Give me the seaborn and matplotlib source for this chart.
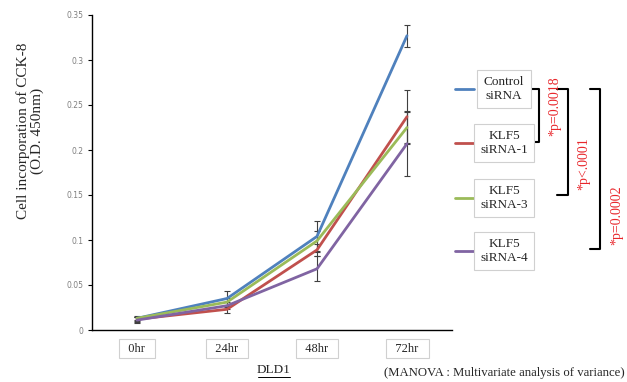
import numpy as np
import pandas as pd
import seaborn as sns
import matplotlib.pyplot as plt
from matplotlib.lines import Line2D

# data
times = ["0hr", "24hr", "48hr", "72hr"]
groups = ["Control\nsiRNA", "KLF5\nsiRNA-1", "KLF5\nsiRNA-3", "KLF5\nsiRNA-4"]
control = [0.013, 0.035, 0.104, 0.327]
sirna1 = [0.012, 0.023, 0.089, 0.237]
sirna3 = [0.013, 0.031, 0.099, 0.225]
sirna4 = [0.011, 0.027, 0.068, 0.207]
control_err = [0.003, 0.008, 0.017, 0.012]
sirna1_err = [0.003, 0.004, 0.007, 0.030]
sirna3_err = [0.002, 0.005, 0.011, 0.017]
sirna4_err = [0.003, 0.004, 0.014, 0.036]
pvalues = ["*p=0.0018", "*p<.0001", "*p=0.0002"]

colors = ["#4F81BD", "#C0504D", "#9BBB59", "#8064A2"]

sns.set_style("white")
plt.rcParams["font.family"] = ["Liberation Serif", "DejaVu Serif"]

values = [control, sirna1, sirna3, sirna4]
errors = [control_err, sirna1_err, sirna3_err, sirna4_err]
df = pd.DataFrame({
    "x": list(range(len(times))) * len(groups),
    "y": np.concatenate(values),
    "group": np.repeat(groups, len(times)),
})

fig = plt.figure(figsize=(6.27, 3.82), dpi=100)
ax = fig.add_axes([92 / 627, 52 / 382, 360 / 627, 315 / 382])

# error bars first so lines sit on top
for i in range(len(groups)):
    ax.errorbar(range(len(times)), values[i], yerr=errors[i], fmt="none",
                ecolor="#404040", elinewidth=0.8, capsize=2.5, capthick=0.8)
sns.lineplot(data=df, x="x", y="y", hue="group", palette=colors,
             linewidth=2, legend=False, ax=ax)

ax.set_xlim(-0.5, 3.5)
ax.set_ylim(0, 0.35)
ax.set_yticks([0, 0.05, 0.1, 0.15, 0.2, 0.25, 0.3, 0.35])
ax.set_yticklabels(["0", "0.05", "0.1", "0.15", "0.2", "0.25", "0.3", "0.35"],
                   family="DejaVu Sans", fontsize=5.5, color="#7f7f7f")
ax.set_xticks(range(len(times)))
ax.set_xticklabels(["  " + t + "  " for t in times], fontsize=9,
                   bbox=dict(facecolor="white", edgecolor="#d0d0d0", boxstyle="square,pad=0.3", lw=0.8))
ax.tick_params(axis="x", length=0, pad=9)
ax.tick_params(axis="y", length=3, width=0.8, color="black", left=True, pad=3)
ax.set_xlabel("")
ax.set_ylabel("")
sns.despine(ax=ax)
for s in ["left", "bottom"]:
    ax.spines[s].set_color("black")
    ax.spines[s].set_linewidth(1)

fig.text(30 / 627, 1 - 131 / 382, "Cell incorporation of CCK-8\n(O.D. 450nm)",
         rotation=90, ha="center", va="center", fontsize=11, linespacing=1.1)
fig.text(274 / 627, 1 - 370 / 382, "DLD1", ha="center", va="center", fontsize=9.5)
fig.add_artist(Line2D([258 / 627, 290 / 627], [1 - 377 / 382] * 2, color="black", lw=0.7))
fig.text(625 / 627, 1 - 373 / 382, "(MANOVA : Multivariate analysis of variance)",
         ha="right", va="center", fontsize=9.2)

# legend drawn by hand with boxed labels
leg_y = [89, 143, 198, 251]
for i in range(len(groups)):
    y = 1 - leg_y[i] / 382
    fig.add_artist(Line2D([455 / 627, 474 / 627], [y, y], color=colors[i], lw=2))
    fig.text(504 / 627, y, groups[i], ha="center", va="center", fontsize=9.5,
             linespacing=1.15,
             bbox=dict(facecolor="white", edgecolor="#d0d0d0", boxstyle="square,pad=0.5", lw=0.8))

# significance brackets
brackets = [(530, 539, 89, 142, 555, 106), (557, 568, 89, 195, 584, 164), (590, 600, 89, 249, 617, 215)]
for j, (x0, x1, ya, yb, tx, ty) in enumerate(brackets):
    xs = [x0 / 627, x1 / 627, x1 / 627, x0 / 627]
    ys = [1 - ya / 382, 1 - ya / 382, 1 - yb / 382, 1 - yb / 382]
    fig.add_artist(Line2D(xs, ys, color="black", lw=1.5))
    fig.text(tx / 627, 1 - ty / 382, pvalues[j], rotation=90, ha="center", va="center",
             fontsize=10, color="#e8262b")

fig.savefig("out.png", dpi=100)
